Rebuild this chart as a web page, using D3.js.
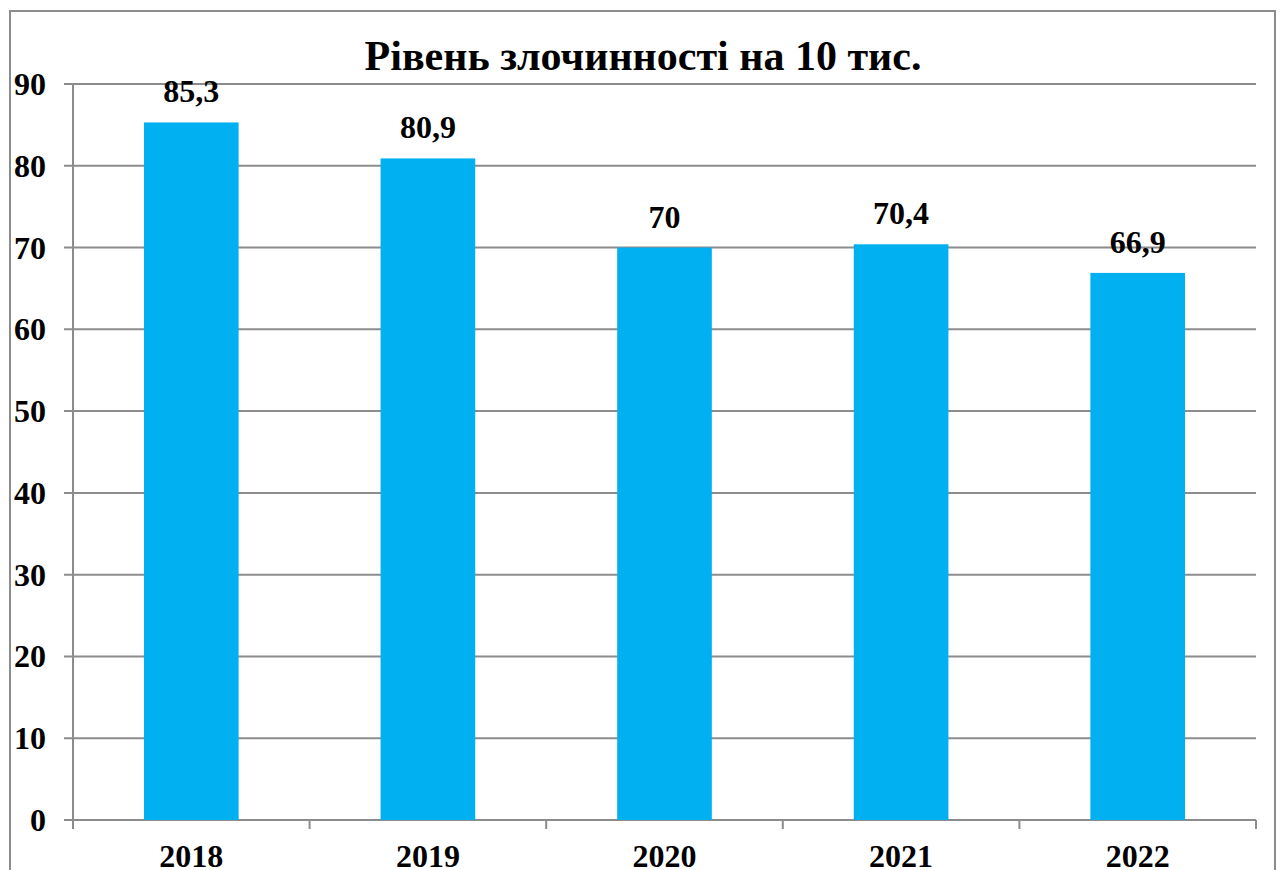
<!DOCTYPE html>
<html lang="uk">
<head>
<meta charset="UTF-8">
<title>Рівень злочинності на 10 тис.</title>
<script src="https://cdn.jsdelivr.net/npm/d3@7"></script>
<style>
  html, body { margin: 0; padding: 0; background: #fff; }
</style>
</head>
<body>
<div id="container"></div>
<script>
// chart data
const years = ["2018", "2019", "2020", "2021", "2022"];
const rates = [85.3, 80.9, 70, 70.4, 66.9];
const yTicks = [0, 10, 20, 30, 40, 50, 60, 70, 80, 90];
const title = "Рівень злочинності на 10 тис.";

const width = 1282, height = 870;
const plotLeft = 73, plotRight = 1256, plotTop = 84, plotBottom = 820;
const gridColor = "#8c8c8c";
const font = "Liberation Serif";
const fontSize = 32;

const svg = d3.select("#container").append("svg")
  .attr("width", width)
  .attr("height", height);

// outer frame (bottom edge falls outside the picture)
svg.append("rect")
  .attr("x", 10).attr("y", 11)
  .attr("width", 1265).attr("height", 900)
  .attr("fill", "#fff")
  .attr("stroke", gridColor)
  .attr("stroke-width", 2);

const x = d3.scaleBand()
  .domain(years)
  .range([plotLeft, plotRight])
  .paddingInner(0.6)
  .paddingOuter(0.3);

const y = d3.scaleLinear()
  .domain([0, 90])
  .range([plotBottom, plotTop]);

// gridlines
svg.append("g")
  .selectAll("line")
  .data(yTicks)
  .join("line")
  .attr("x1", plotLeft - 9)
  .attr("x2", plotRight)
  .attr("y1", d => y(d))
  .attr("y2", d => y(d))
  .attr("stroke", gridColor)
  .attr("stroke-width", 2);

// y axis line
svg.append("line")
  .attr("x1", plotLeft).attr("x2", plotLeft)
  .attr("y1", y(90)).attr("y2", y(0))
  .attr("stroke", gridColor)
  .attr("stroke-width", 2);

// x category boundary ticks
const step = (plotRight - plotLeft) / years.length;
svg.append("g")
  .selectAll("line")
  .data(d3.range(years.length + 1))
  .join("line")
  .attr("x1", i => plotLeft + i * step)
  .attr("x2", i => plotLeft + i * step)
  .attr("y1", y(0))
  .attr("y2", y(0) + 9)
  .attr("stroke", gridColor)
  .attr("stroke-width", 2);

function label(sel, size) {
  return sel
    .attr("font-family", font)
    .attr("font-weight", "bold")
    .attr("font-size", size)
    .attr("fill", "#000");
}

// y tick labels
svg.append("g")
  .selectAll("text")
  .data(yTicks)
  .join("text")
  .call(label, fontSize)
  .attr("x", 46)
  .attr("y", d => y(d) + 11)
  .attr("text-anchor", "end")
  .text(d => d);

// bars
svg.append("g")
  .selectAll("rect")
  .data(rates)
  .join("rect")
  .attr("x", (d, i) => x(years[i]))
  .attr("y", d => y(d))
  .attr("width", x.bandwidth())
  .attr("height", d => y(0) - y(d))
  .attr("fill", "#00b0f0");

// value labels
svg.append("g")
  .selectAll("text")
  .data(rates)
  .join("text")
  .call(label, fontSize)
  .attr("x", (d, i) => x(years[i]) + x.bandwidth() / 2)
  .attr("y", d => y(d) - 20)
  .attr("text-anchor", "middle")
  .text(d => String(d).replace(".", ","));

// year labels
svg.append("g")
  .selectAll("text")
  .data(years)
  .join("text")
  .call(label, fontSize)
  .attr("x", d => x(d) + x.bandwidth() / 2)
  .attr("y", 867)
  .attr("text-anchor", "middle")
  .text(d => d);

// title
svg.append("text")
  .call(label, 42)
  .attr("x", 643)
  .attr("y", 70)
  .attr("text-anchor", "middle")
  .text(title);
</script>
</body>
</html>
